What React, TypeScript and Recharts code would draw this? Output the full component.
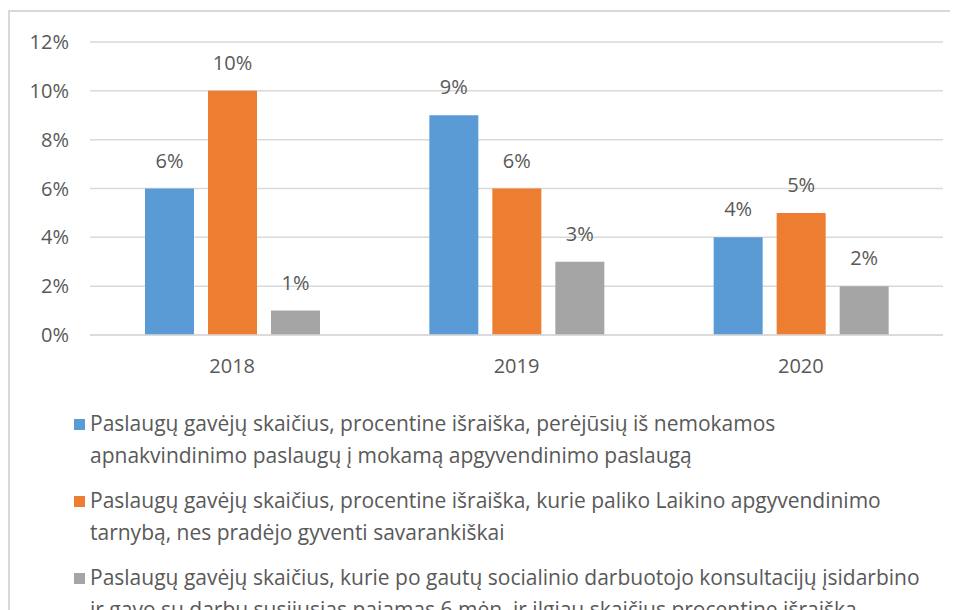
import React from "react";
import { BarChart, Bar, XAxis, YAxis, CartesianGrid, LabelList } from "recharts";

const years = ["2018", "2019", "2020"];
const perejusiu = [6, 9, 4];
const savarankiskai = [10, 6, 5];
const isidarbino = [1, 3, 2];
const yTicks = [0, 2, 4, 6, 8, 10, 12];

const seriesNames = [
  ["Paslaugų gavėjų skaičius, procentine išraiška, perėjūsių iš nemokamos", "apnakvindinimo paslaugų į mokamą apgyvendinimo paslaugą"],
  ["Paslaugų gavėjų skaičius, procentine išraiška, kurie paliko Laikino apgyvendinimo", "tarnybą, nes pradėjo gyventi savarankiškai"],
  ["Paslaugų gavėjų skaičius, kurie po gautų socialinio darbuotojo konsultacijų įsidarbino", "ir gavo su darbu susijusias pajamas 6 mėn. ir ilgiau skaičius procentine išraiška"],
];
const colors = ["#5b9bd5", "#ed7d31", "#a5a5a5"];

const data = years.map((y, i) => ({
  year: y,
  a: perejusiu[i],
  b: savarankiskai[i],
  c: isidarbino[i],
}));

const FONT = "'Open Sans', sans-serif";
const TEXT = "#595959";

export default function App() {
  const pct = (v: number) => `${v}%`;
  return (
    <div
      style={{
        marginTop: 2,
        width: 960,
        height: 640,
        border: "2px solid #d9d9d9",
        background: "#fff",
        fontFamily: FONT,
        position: "relative",
      }}
    >
      <BarChart
        width={946}
        height={380}
        data={data}
        margin={{ top: 30, right: 13, left: 0, bottom: 0 }}
        barSize={49}
        barGap={14}
      >
        <CartesianGrid vertical={false} stroke="#d9d9d9" strokeWidth={1.5} />
        <XAxis
          dataKey="year"
          axisLine={{ stroke: "#d9d9d9", strokeWidth: 1.5 }}
          tickLine={false}
          tick={{ fill: TEXT, fontSize: 20, fontFamily: FONT }}
          tickMargin={18}
          height={57}
        />
        <YAxis
          domain={[0, 12]}
          ticks={yTicks}
          tickFormatter={pct}
          axisLine={false}
          tickLine={false}
          tick={{ fill: TEXT, fontSize: 20, fontFamily: FONT }}
          tickMargin={15}
          width={80}
        />
        {(["a", "b", "c"] as const).map((k, i) => (
          <Bar key={k} dataKey={k} fill={colors[i]} isAnimationActive={false}>
            <LabelList
              dataKey={k}
              position="top"
              offset={21}
              formatter={(v: any) => `${v}%`}
              style={{ fill: TEXT, fontSize: 20, fontFamily: FONT }}
            />
          </Bar>
        ))}
      </BarChart>
      <div style={{ position: "absolute", left: 0, top: 395, color: TEXT, fontSize: 21, lineHeight: "32px" }}>
        {seriesNames.map((lines, i) => (
          <div key={i} style={{ position: "relative", paddingLeft: 80, marginBottom: 13, whiteSpace: "nowrap" }}>
            <span
              style={{
                position: "absolute",
                left: 64,
                top: 12,
                width: 11,
                height: 11,
                background: colors[i],
              }}
            />
            {lines.map((l, j) => (
              <div key={j}>{l}</div>
            ))}
          </div>
        ))}
      </div>
    </div>
  );
}
